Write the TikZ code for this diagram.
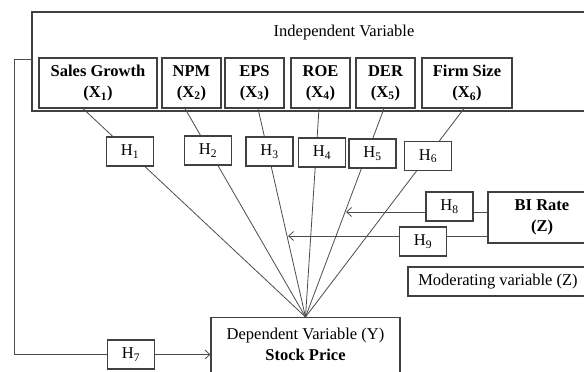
\documentclass[tikz,border=0pt]{standalone}
\usepackage{fontspec}
\setmainfont{Liberation Serif}
\usetikzlibrary{arrows.meta,calc}
\begin{document}
\begin{tikzpicture}[x=1pt,y=-1pt,
  box/.style={draw=black!75, line width=1.1pt, rectangle, inner sep=0pt, align=center, font=\fontsize{16.5}{21}\selectfont},
  xbox/.style={box, font=\fontsize{16.5}{21}\selectfont\bfseries, minimum height=50pt},
  hbox/.style={box, fill=white, minimum width=47pt, minimum height=29pt},
  txt/.style={inner sep=0pt, align=center, font=\fontsize{16.5}{21}\selectfont},
  conn/.style={draw=black!70, line width=0.8pt},
  arr/.style={conn, -{Straight Barb[length=5pt,width=9pt]}}]
\useasboundingbox (0,0) rectangle (584,372);
% independent variable frame
\node[box, minimum width=555pt, minimum height=99pt] (iv) at (309.5,61.5) {};
\node[txt] (ivt) at (344,33) {Independent Variable};
\node[xbox, minimum width=118pt] (sg) at (98,83) {Sales Growth\\(X\textsubscript{1})};
\node[xbox, minimum width=59pt] (npm) at (191.5,83) {NPM\\(X\textsubscript{2})};
\node[xbox, minimum width=59pt] (eps) at (254.5,83) {EPS\\(X\textsubscript{3})};
\node[xbox, minimum width=59pt] (roe) at (320.5,83) {ROE\\(X\textsubscript{4})};
\node[xbox, minimum width=59pt] (der) at (385.5,83) {DER\\(X\textsubscript{5})};
\node[xbox, minimum width=90pt] (fs) at (467,83) {Firm Size\\(X\textsubscript{6})};
% dependent variable
\node[box, anchor=north, minimum width=189pt, minimum height=70pt] (dv) at (305.5,317) {};
\node[txt] (dvt) at (305.5,344) {Dependent Variable (Y)\\\textbf{Stock Price}};
% lines from X to Y
\draw[conn] ($(sg.south)+(-15,0)$) -- (dv.north);
\draw[conn] ($(npm.south)+(-6.5,0)$) -- (dv.north);
\draw[conn] ($(eps.south)+(3.5,0)$) -- (dv.north);
\draw[conn] ($(roe.south)+(-1.5,0)$) -- (dv.north);
\draw[conn] ($(der.south)+(-1.5,0)$) -- (dv.north);
\draw[conn] ($(fs.south)+(-3,0)$) -- (dv.north);
% moderator
\node[box, font=\fontsize{16.5}{21}\selectfont\bfseries, minimum width=108pt, minimum height=51pt] (bi) at (542,217.5) {BI Rate\\(Z)};
\coordinate (m8) at (346,212);
\coordinate (m9) at (288,236);
\draw[arr] (bi.west |- m8) -- (m8);
\draw[arr] (bi.west |- m9) -- (m9);
\node[box, minimum width=180pt, minimum height=29pt] (mod) at (498,281.5) {Moderating variable (Z)};
% hypothesis boxes
\node[hbox] (h1) at (130,151.5) {H\textsubscript{1}};
\node[hbox] (h2) at (208,150.5) {H\textsubscript{2}};
\node[hbox] (h3) at (269.5,151.5) {H\textsubscript{3}};
\node[hbox] (h4) at (322,152.5) {H\textsubscript{4}};
\node[hbox] (h5) at (372.5,153.5) {H\textsubscript{5}};
\node[hbox] (h6) at (428,156) {H\textsubscript{6}};
\node[hbox] (h8) at (449.5,206.5) {H\textsubscript{8}};
\node[hbox] (h9) at (423,241.5) {H\textsubscript{9}};
\node[hbox] (h7) at (131,354.5) {H\textsubscript{7}};
% left loop
\coordinate (lt) at (14,59);
\coordinate (lb) at (14,354.5);
\draw[conn, line width=1pt] (iv.west |- lt) -- (lt) -- (lb) -- (h7.west);
\draw[arr] (h7.east) -- (dv.west |- h7.east);
\end{tikzpicture}
\end{document}
